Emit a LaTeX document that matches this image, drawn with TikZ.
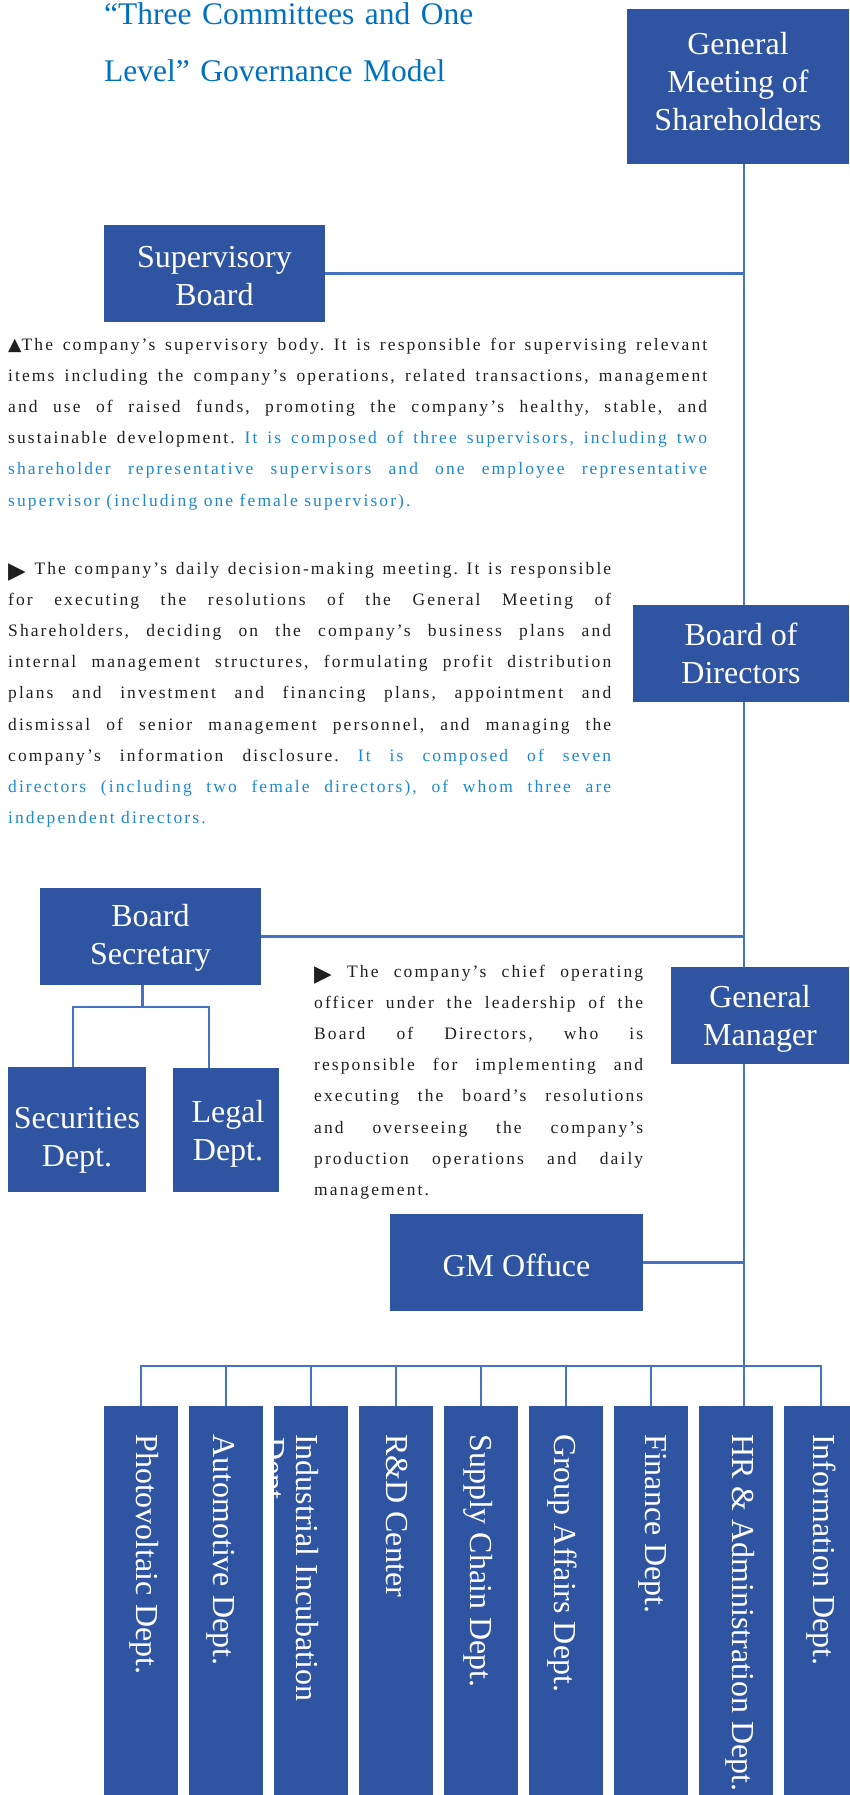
\documentclass[tikz,border=0pt]{standalone}
\usepackage{fontspec}
\setmainfont{Liberation Serif}
\newfontfamily\bodyfont[LetterSpace=12]{Liberation Serif}
\newfontfamily\symfont{DejaVu Sans}
\usetikzlibrary{backgrounds}

\definecolor{boxblue}{HTML}{2F54A1}
\definecolor{linkblue}{HTML}{4472C4}
\definecolor{titleblue}{HTML}{0070C0}
\definecolor{noteblue}{HTML}{1E88CC}
\definecolor{bodygray}{HTML}{1F1F1F}
\tolerance=9999
\frenchspacing

\newcommand{\uptri}{{\symfont ▲}}
\newcommand{\righttri}{\raisebox{-4pt}{\symfont\fontsize{23}{23}\selectfont ▶}}

\tikzset{
	box/.style={fill=boxblue, inner sep=0pt},
	boxtext/.style={text=white, inner sep=0pt, align=center, font=\fontsize{32}{38}\selectfont},
	dept/.style={fill=boxblue, minimum width=74pt, minimum height=420pt, inner sep=0pt, anchor=north},
	deptlabel/.style={text=white, rotate=-90, inner sep=0pt, anchor=base west, font=\fontsize{32}{37}\selectfont},
	link/.style={draw=linkblue, line width=2.5pt},
	note/.style={text=bodygray, inner sep=0pt, align=justify, anchor=base west, font=\bodyfont\fontsize{17.5}{31.2}\selectfont},
}

\begin{document}
\begin{tikzpicture}[x=1pt, y=-1pt]
	\useasboundingbox (0,0) rectangle (849,1795);
	
	% title
	\node[text=titleblue, inner sep=0pt, anchor=base west, text width=420pt, align=left, font=\fontsize{31.5}{57}\selectfont] (title) at (104,25) {“Three Committees and One\\Level” Governance Model};
	
	% governing bodies
	\node[box, minimum width=222pt, minimum height=155pt] (gms) at (738,86.5) {};
	\node[boxtext] (gmstext) at ([yshift=5pt]gms.center) {General\\Meeting of\\Shareholders};
	\node[box, minimum width=221pt, minimum height=97pt] (sup) at (214.5,273.5) {};
	\node[boxtext] (suptext) at ([yshift=-3pt]sup.center) {Supervisory\\Board};
	\node[box, minimum width=216pt, minimum height=97pt] (bod) at (741,653.5) {};
	\node[boxtext] (bodtext) at (bod.center) {Board of\\Directors};
	\node[box, minimum width=221pt, minimum height=97pt] (bsec) at (150.5,936.5) {};
	\node[boxtext] (bsectext) at ([yshift=-1pt]bsec.center) {Board\\Secretary};
	\node[box, minimum width=178pt, minimum height=97pt] (gm) at (760,1015.5) {};
	\node[boxtext] (gmtext) at ([yshift=-3pt]gm.center) {General\\Manager};
	\node[box, minimum width=138pt, minimum height=125pt] (sec) at (77,1129.5) {};
	\node[boxtext] (sectext) at ([yshift=-11pt]sec.center) {Securities\\Dept.};
	\node[box, minimum width=106pt, minimum height=124pt] (legal) at (226,1130) {};
	\node[boxtext] (legaltext) at ([xshift=2pt,yshift=-4pt]legal.center) {Legal\\Dept.};
	\node[box, minimum width=253pt, minimum height=97pt] (gmo) at (516.5,1262.5) {};
	\node[boxtext] (gmotext) at ([yshift=-3pt]gmo.center) {GM Offuce};
	
	% notes
	\node[note, text width=699pt] (supnote) at (8,350) {\uptri The company’s supervisory body. It is responsible for supervising relevant \linebreak items including the company’s operations, related transactions, management \linebreak and use of raised funds, promoting the company’s healthy, stable, and \linebreak sustainable development. \textcolor{noteblue}{It is composed of three supervisors, including two \linebreak shareholder representative supervisors and one employee representative \linebreak supervisor (including one female supervisor).}};
	\node[note, text width=603pt] (bodnote) at (8,574) {\righttri{} The company’s daily decision-making meeting. It is responsible \linebreak for executing the resolutions of the General Meeting of \linebreak Shareholders, deciding on the company’s business plans and \linebreak internal management structures, formulating profit distribution \linebreak plans and investment and financing plans, appointment and \linebreak dismissal of senior management personnel, and managing the \linebreak company’s information disclosure. \textcolor{noteblue}{It is composed of seven \linebreak directors (including two female directors), of whom three are \linebreak independent directors.}};
	\node[note, text width=329pt] (gmnote) at (314,977) {\righttri{} The company’s chief operating \linebreak officer under the leadership of the \linebreak Board of Directors, who is \linebreak responsible for implementing and \linebreak executing the board’s resolutions \linebreak and overseeing the company’s \linebreak production operations and daily \linebreak management.};
	
	% departments
	\foreach \name/\x in {d1/141, d2/226, d3/311, d4/396, d5/481, d6/566, d7/651, d8/736, d9/821}
		\node[dept] (\name) at (\x,1406) {};
	\foreach \x/\txt in {148/Photovoltaic Dept., 225/Automotive Dept., 308/Industrial Incubation, 398/R\&D Center, 482/Supply Chain Dept., 566/Group Affairs Dept., 657/Finance Dept., 744/HR \& Administration Dept., 825/Information Dept.}
		\node[deptlabel] at (\x-11.5,1434) {\txt};
	\begin{scope}
		\clip (d3.north west) rectangle (d3.south east);
		\node[deptlabel] at (263.5,1437) {Dept.};
	\end{scope}
	
	% connectors
	\begin{scope}[on background layer]
		\coordinate (trunk) at (744,0);
		\draw[link] (gms.south -| trunk) -- (d8.north -| trunk);
		\draw[link] (sup.east) -- (sup.east -| trunk);
		\draw[link] (bsec.east) -- (bsec.east -| trunk);
		\draw[link] (gmo.east) -- (gmo.east -| trunk);
		\draw[link] ([xshift=-8pt]bsec.south) -- ++(0,22) coordinate (sj);
		\draw[link] ([xshift=-4pt]sec.north) |- (sj) -| ([xshift=-17pt]legal.north);
		\draw[link] (d1.north) -- ++(0,-40) coordinate (bus) -| (d9.north);
		\foreach \i in {2,...,7}
			\draw[link] (d\i.north) -- (d\i.north |- bus);
	\end{scope}
\end{tikzpicture}
\end{document}
